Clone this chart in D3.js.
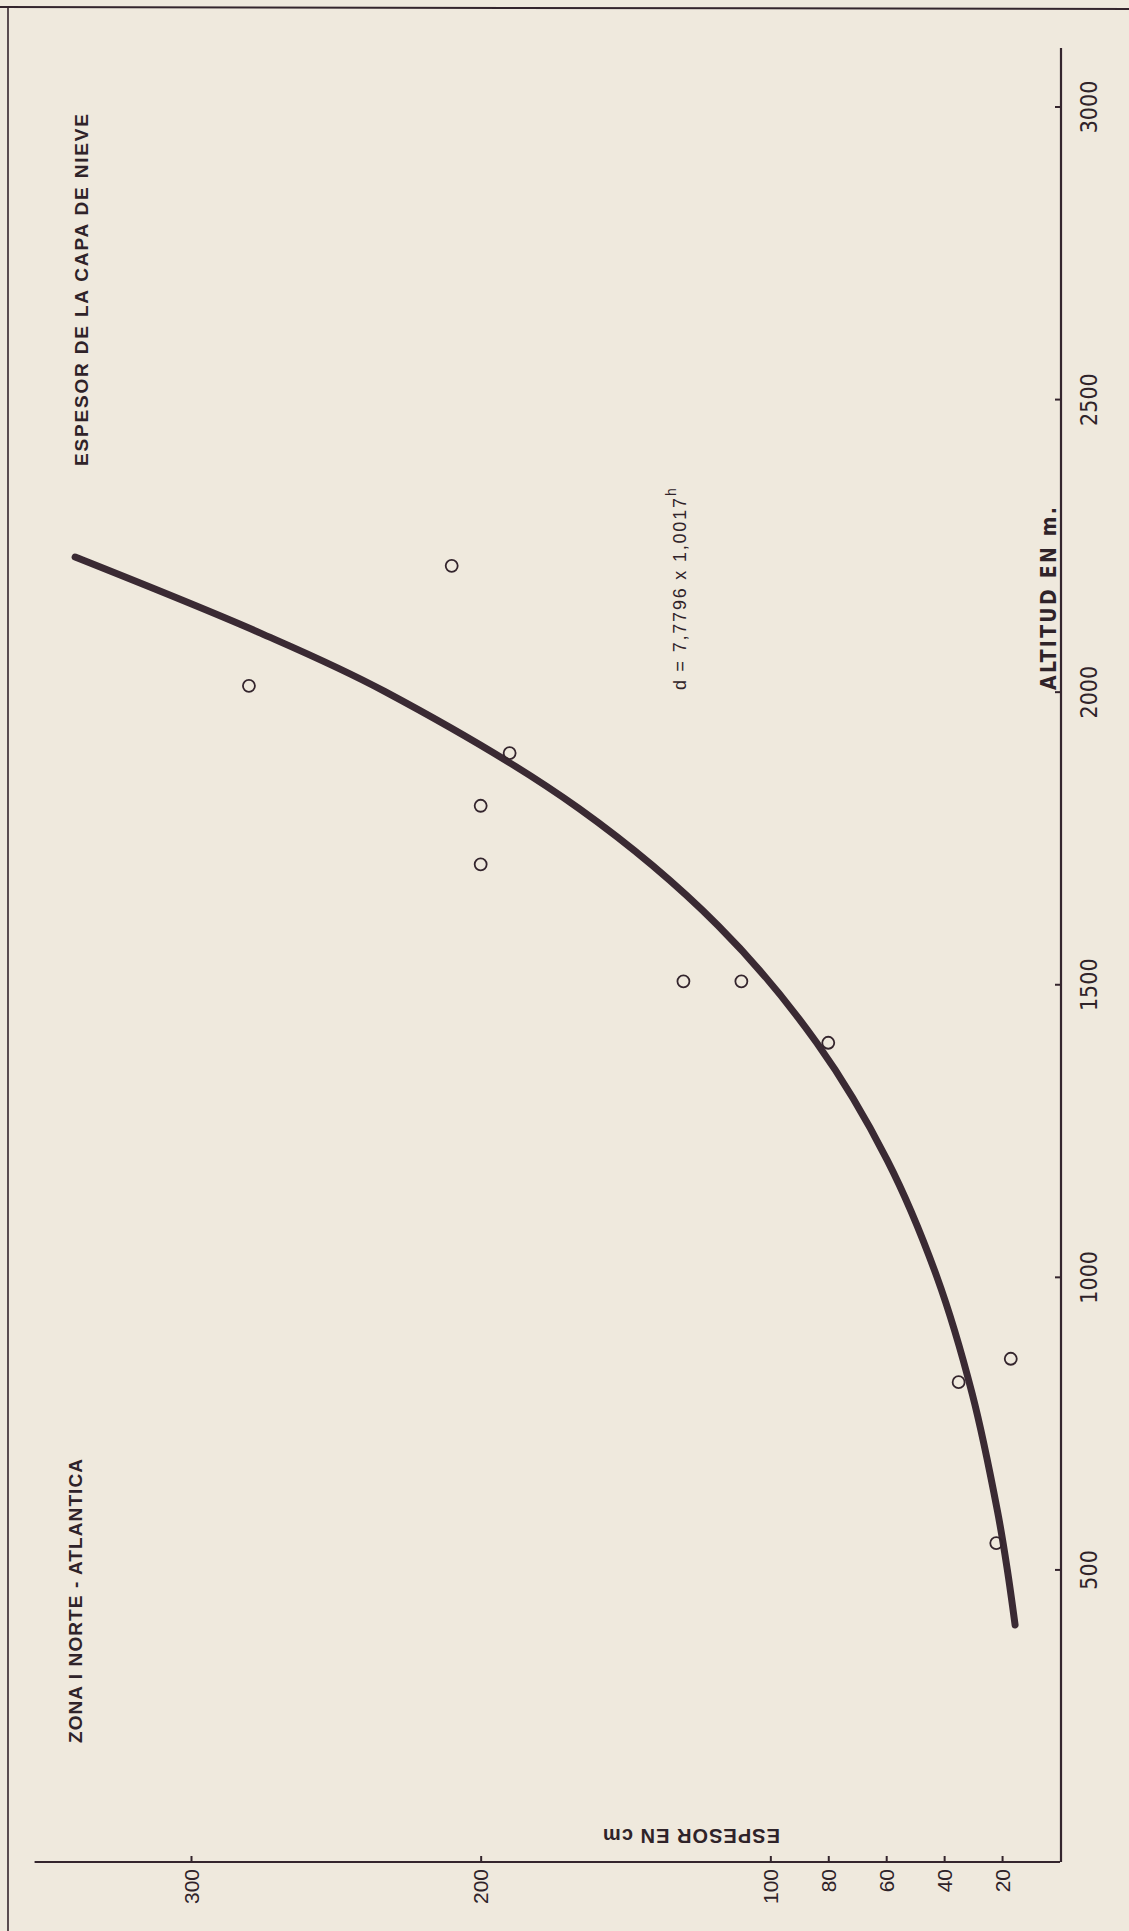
<!DOCTYPE html>
<html>
<head>
<meta charset="utf-8">
<script src="https://cdn.jsdelivr.net/npm/d3@7"></script>
<style>
  body { margin: 0; background: #efe9dd; }
  svg { display: block; }
  .lbl { fill: #2f2329; font-family: "Liberation Sans", Arial, sans-serif; }
  .narrow { font-family: "Liberation Sans Narrow", "DejaVu Sans Condensed", "Liberation Sans", sans-serif; }
</style>
</head>
<body>
<div id="chart"></div>
<script>
// axis ticks
const altTicks = [500, 1000, 1500, 2000, 2500, 3000];
const espTicks = [20, 40, 60, 80, 100, 200, 300];

// observed stations (altitude m, snow depth cm)
const ptAltitud = [2215, 2010, 1895, 1805, 1705, 1505, 1505, 1400, 820, 860, 545];
const ptEspesor = [210, 280, 190, 200, 200, 130, 110, 80, 35, 17, 22];

// fitted curve
const curveAltitud = [405, 500, 600, 800, 1000, 1200, 1400, 1600, 1800, 2000, 2100, 2230];
const curveEspesor = [15.5, 18.2, 21.6, 30.3, 42.5, 59.7, 84, 118, 166, 233, 276, 340];

const width = 1129, height = 1931;
const ink = "#34252d";

const svg = d3.select("#chart").append("svg")
  .attr("width", width)
  .attr("height", height);

svg.append("rect").attr("width", width).attr("height", height).attr("fill", "#efe9dd");

// page frame
svg.append("line").attr("x1", 0).attr("x2", width).attr("y1", 7).attr("y2", 9)
  .attr("stroke", ink).attr("stroke-width", 2);
svg.append("line").attr("x1", 8).attr("x2", 8).attr("y1", 7).attr("y2", height)
  .attr("stroke", ink).attr("stroke-width", 1.6);

// scales: espesor runs right-to-left along the bottom, altitude bottom-to-top on the right
const x = d3.scaleLinear().domain([0, 300]).range([1060, 191]);
const y = d3.scaleLinear().domain([0, 3000]).range([1862, 106.5]);

// bottom axis
svg.append("line")
  .attr("x1", x(0)).attr("x2", x(354))
  .attr("y1", y(0)).attr("y2", y(0))
  .attr("stroke", ink).attr("stroke-width", 2.2);

const gx = svg.append("g")
  .attr("transform", `translate(0,${y(0)})`)
  .call(d3.axisBottom(x).tickValues(espTicks).tickSize(-6).tickFormat(d3.format("d")));
gx.select(".domain").remove();
gx.selectAll(".tick line").attr("stroke", ink).attr("stroke-width", 2);
gx.selectAll(".tick text")
  .attr("class", "lbl")
  .attr("transform", "rotate(-90)")
  .attr("x", -7).attr("y", 7).attr("dy", 0)
  .attr("text-anchor", "end")
  .style("font-size", "21px");

// right axis
svg.append("line")
  .attr("x1", x(0) + 1).attr("x2", x(0) + 1)
  .attr("y1", y(0)).attr("y2", y(3100))
  .attr("stroke", ink).attr("stroke-width", 2.2);

const gy = svg.append("g")
  .attr("transform", `translate(${x(0) + 1},0)`)
  .call(d3.axisRight(y).tickValues(altTicks).tickSize(-6).tickFormat(d3.format("d")));
gy.select(".domain").remove();
gy.selectAll(".tick line").attr("stroke", ink).attr("stroke-width", 2);
gy.selectAll(".tick text")
  .attr("class", "lbl narrow")
  .attr("transform", "rotate(-90)")
  .attr("x", 0).attr("y", 36).attr("dy", 0)
  .attr("text-anchor", "middle")
  .style("font-size", "23px");

// fitted curve
const curvePts = curveAltitud.map((h, i) => [x(curveEspesor[i]), y(h)]);
svg.append("path")
  .attr("d", d3.line().curve(d3.curveCatmullRom.alpha(0.5))(curvePts))
  .attr("fill", "none")
  .attr("stroke", "#3a2a33")
  .attr("stroke-width", 7)
  .attr("stroke-linecap", "round");

// observations
svg.selectAll(".pt")
  .data(ptAltitud)
  .enter().append("circle")
  .attr("class", "pt")
  .attr("cx", (h, i) => x(ptEspesor[i]))
  .attr("cy", h => y(h))
  .attr("r", 6)
  .attr("fill", "none")
  .attr("stroke", ink)
  .attr("stroke-width", 1.8);

// texts
function vtext(tx, ty, str, size, opts) {
  const t = svg.append("text")
    .attr("class", "lbl " + (opts.cls || ""))
    .attr("transform", `translate(${tx},${ty}) rotate(${opts.rot || -90})`)
    .attr("text-anchor", opts.anchor || "start")
    .style("font-size", size + "px")
    .style("font-weight", opts.bold ? "bold" : "normal")
    .text(str);
  if (opts.len) t.attr("textLength", opts.len).attr("lengthAdjust", "spacing");
  return t;
}

vtext(88, 466, "ESPESOR DE LA CAPA DE NIEVE", 19, { bold: true, len: 352 });
vtext(82, 1743, "ZONA I NORTE - ATLANTICA", 19, { bold: true, len: 284 });
vtext(1056, 690, "ALTITUD EN m.", 21, { cls: "narrow", bold: true, len: 183 });
vtext(603, 1829, "ESPESOR EN cm", 20, { rot: 180, anchor: "end", bold: true, len: 177 });

vtext(686, 690, "d = 7,7796 x 1,0017", 18, { len: 192 });
vtext(676, 496, "h", 14, {});
</script>
</body>
</html>
